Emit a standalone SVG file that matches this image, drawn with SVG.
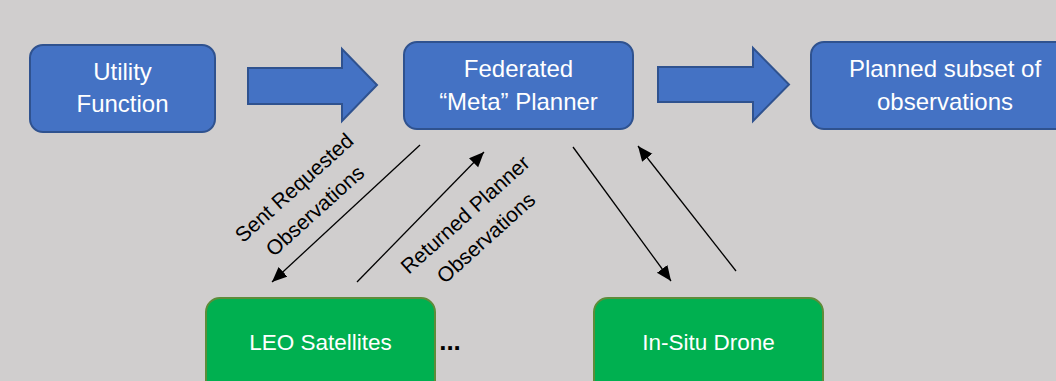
<svg xmlns="http://www.w3.org/2000/svg" width="1056" height="381" viewBox="0 0 1056 381">
  <style>
    .blue { fill: #4472C4; stroke: #2F528F; stroke-width: 2; }
    .green { fill: #00B050; stroke: #5E8C3A; stroke-width: 2; }
    .wt { font-family: "Liberation Sans", Arial, sans-serif; font-size: 24px; fill: #FFFFFF; text-anchor: middle; }
    .wg { font-family: "Liberation Sans", Arial, sans-serif; font-size: 22.5px; fill: #FFFFFF; text-anchor: middle; }
    .lbl { font-family: "Liberation Sans", Arial, sans-serif; font-size: 21px; fill: #000000; text-anchor: middle; }
    .conn { stroke: #000000; stroke-width: 1.3; fill: none; marker-end: url(#ah); }
  </style>
  <defs>
    <marker id="ah" markerUnits="userSpaceOnUse" markerWidth="16" markerHeight="14" refX="15" refY="6.5" orient="auto">
      <path d="M0,0 L15,6.5 L0,13 z" fill="#000000"/>
    </marker>
  </defs>
  <rect x="0" y="0" width="1056" height="381" fill="#D0CECE"/>

  <g id="utility">
    <rect class="blue" x="30" y="45" width="185" height="87" rx="13"/>
    <text class="wt" x="122.5" y="80">Utility</text>
    <text class="wt" x="122.5" y="112">Function</text>
  </g>

  <g id="arrow-utility-planner">
    <polygon class="blue" points="248,68 342,68 342,49 377,85 342,121 342,104 248,104"/>
  </g>

  <g id="planner">
    <rect class="blue" x="404" y="42" width="229" height="87" rx="13"/>
    <text class="wt" x="518.5" y="77">Federated</text>
    <text class="wt" x="518.5" y="110">“Meta” Planner</text>
  </g>

  <g id="arrow-planner-subset">
    <polygon class="blue" points="658,67 753,67 753,48 789,84.5 753,121 753,102 658,102"/>
  </g>

  <g id="subset">
    <rect class="blue" x="811" y="42" width="268" height="87" rx="13"/>
    <text class="wt" x="945" y="77">Planned subset of</text>
    <text class="wt" x="945" y="110">observations</text>
  </g>

  <g id="leo">
    <rect class="green" x="206" y="298" width="229" height="100" rx="14"/>
    <text class="wg" x="320.5" y="350">LEO Satellites</text>
  </g>

  <g id="ellipsis">
    <text x="450" y="350" font-family="Liberation Sans, Arial, sans-serif" font-size="26" font-weight="bold" fill="#000000" text-anchor="middle">...</text>
  </g>

  <g id="drone">
    <rect class="green" x="594" y="298" width="229" height="100" rx="14"/>
    <text class="wg" x="708.5" y="350">In-Situ Drone</text>
  </g>

  <g id="connectors">
    <line class="conn" x1="420" y1="145" x2="272" y2="282"/>
    <line class="conn" x1="357" y1="282" x2="484" y2="152"/>
    <line class="conn" x1="573" y1="147" x2="671" y2="281"/>
    <line class="conn" x1="736" y1="271" x2="638" y2="146"/>
  </g>

  <g id="label-sent" transform="translate(299,193) rotate(-42)">
    <text class="lbl" x="0" y="0">Sent Requested</text>
    <text class="lbl" x="0" y="31">Observations</text>
  </g>

  <g id="label-returned" transform="translate(470,220) rotate(-42)">
    <text class="lbl" x="0" y="0">Returned Planner</text>
    <text class="lbl" x="0" y="31">Observations</text>
  </g>
</svg>
